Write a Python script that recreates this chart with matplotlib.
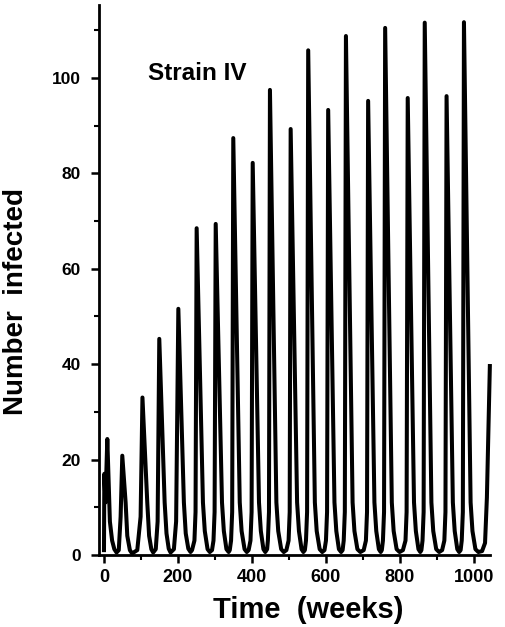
import matplotlib
matplotlib.use("Agg")
import matplotlib.pyplot as plt
from matplotlib.ticker import MultipleLocator

# points, one spike per row (time in weeks, number infected)
weeks = [
    0, 1, 4, 9, 16, 22, 28, 34,
    40, 45, 49.5, 58.5, 63, 70, 76,
    90, 99, 104, 117, 122, 128, 133,
    140, 145, 149.5, 164, 169, 175, 180,
    189, 195, 201, 216, 221, 228, 234,
    238, 244.5, 247.5, 250.5, 267.5, 272.5, 280, 286,
    292, 296, 299, 302, 319, 324, 331, 337,
    340, 343.5, 346.5, 349.5, 367, 372, 380, 386,
    391, 396, 399, 402, 419, 424, 431, 436,
    441, 443, 446, 448.6, 466, 471, 479, 486,
    493, 499, 502, 504.6, 522, 527, 534, 539,
    543, 546, 549, 552, 570, 575, 583, 590,
    596, 600, 603, 606, 623, 628, 635, 641,
    645, 648, 651, 654, 672, 677, 685, 693,
    702, 708, 711, 714, 731, 736, 743, 748,
    751, 754, 757, 760, 778, 783, 791, 799,
    808, 815, 818, 821, 838, 843, 850, 855,
    858, 861, 864, 867, 885, 890, 898, 906,
    914, 920, 923, 926, 943, 948, 955, 960,
    964, 967, 970, 973, 991, 996, 1004, 1012,
    1022, 1030, 1035, 1043,
]
infected = [
    1, 17, 11, 24.3, 7, 3, 1.2, 0.5,
    1, 8, 20.8, 11, 4, 1, 0.3,
    1, 8, 33, 11, 4, 1.2, 0.5,
    1.2, 7, 45.3, 11, 4.5, 1.3, 0.5,
    1.2, 7, 51.6, 11, 4.5, 1.3, 0.6,
    1, 3, 9, 68.5, 11, 5, 1.2, 0.6,
    1, 3, 9, 69.4, 11, 5, 1.2, 0.6,
    1, 3, 9, 87.4, 11, 5, 1.2, 0.6,
    1, 3, 9, 82.2, 11, 5, 1.2, 0.6,
    1.2, 3, 9, 97.5, 11, 5, 1.2, 0.6,
    1, 3, 9, 89.3, 11, 5, 1.2, 0.6,
    1, 3, 9, 105.8, 11, 5, 1.2, 0.6,
    1, 3, 9, 93.3, 11, 5, 1.2, 0.6,
    1, 3, 9, 108.8, 11, 5, 1.2, 0.6,
    1, 3, 9, 95.2, 11, 5, 1.2, 0.6,
    1, 3, 9, 110.5, 11, 5, 1.2, 0.6,
    1, 3, 9, 95.8, 11, 5, 1.2, 0.6,
    1, 3, 9, 111.6, 11, 5, 1.2, 0.6,
    1, 3, 9, 96.2, 11, 5, 1.2, 0.6,
    1, 3, 9, 111.7, 11, 5, 1.2, 0.6,
    0.8, 2.5, 12, 39.6,
]

y_ticks = [0, 20, 40, 60, 80, 100]
x_ticks = [0, 200, 400, 600, 800, 1000]

plt.rcParams['font.family'] = ['Liberation Sans', 'DejaVu Sans']
plt.rcParams['font.weight'] = 'bold'

fig = plt.figure(figsize=(5.05, 6.27), dpi=100)
ax = fig.add_axes([0.196, 0.115, 0.774, 0.877])

ax.plot(weeks, infected, color='black', lw=2.9, solid_joinstyle='round', clip_on=False)

ax.set_xlim(-13.5, 1043)
ax.set_ylim(0, 115.3)

for s in ['top', 'right']:
    ax.spines[s].set_visible(False)
for s in ['left', 'bottom']:
    ax.spines[s].set_linewidth(2.0)

ax.set_xticks(x_ticks)
ax.set_yticks(y_ticks)
ax.xaxis.set_minor_locator(MultipleLocator(100))
ax.yaxis.set_minor_locator(MultipleLocator(10))
ax.tick_params(which='major', direction='out', length=6, width=1.8, labelsize=13, pad=4)
ax.tick_params(which='minor', direction='out', length=3.5, width=1.5)
ax.tick_params(axis='y', which='major', pad=7, labelsize=12.5)
for lab in ax.get_xticklabels() + ax.get_yticklabels():
    lab.set_fontweight('bold')

ax.set_xlabel('Time  (weeks)', fontsize=21, fontweight='bold')
ax.xaxis.set_label_coords(0.535, -0.075)
ax.set_ylabel('Number  infected', fontsize=20, fontweight='bold')
ax.yaxis.set_label_coords(-0.18, 0.46)

ax.text(120, 101, 'Strain IV', fontsize=17.5, fontweight='bold', va='center', ha='left')

fig.savefig('out.png', dpi=100)
